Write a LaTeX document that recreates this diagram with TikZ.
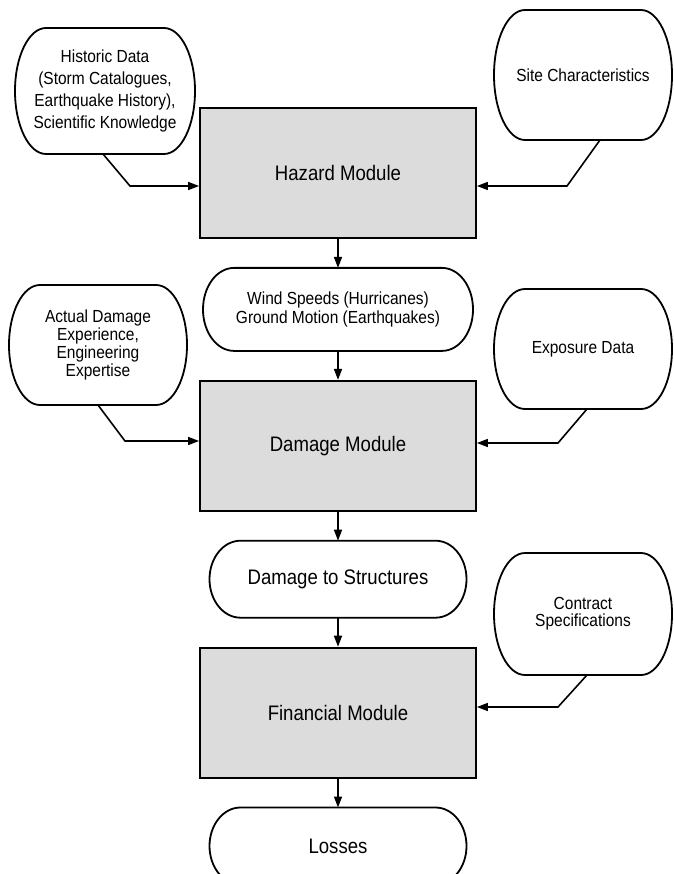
\documentclass[tikz,border=0pt]{standalone}
\usepackage{fontspec}
\usepackage{tikz}
\usetikzlibrary{arrows.meta,positioning,calc}

\newfontfamily\diagfont{Liberation Sans}[FakeStretch=0.885]
\newcommand{\bigfont}{\diagfont\fontsize{21}{24}\selectfont}
\newcommand{\smallfont}{\diagfont\fontsize{17.5}{18.3}\selectfont}
\newcommand{\loosefont}{\diagfont\fontsize{17.5}{21.8}\selectfont}
\definecolor{modulegray}{RGB}{220,220,220}

% outline with elliptical ends, drawn round a named node
\newcommand{\bubblerx}{31pt}
\newcommand{\drawbubble}[1]{%
  \draw[bubbleedge] let \p1=(#1.north east), \p2=(#1.south west), \n1={(\y1-\y2)/2} in
    ([xshift=\bubblerx]#1.north west) -- ([xshift=-\bubblerx]#1.north east)
    arc[start angle=90, end angle=-90, x radius=\bubblerx, y radius=\n1]
    -- ([xshift=\bubblerx]#1.south west)
    arc[start angle=270, end angle=90, x radius=\bubblerx, y radius=\n1] -- cycle;}

\begin{document}
\begin{tikzpicture}[
  x=1pt, y=1pt,
  node distance=29pt,
  module/.style={draw, line width=1.8pt, fill=modulegray, minimum width=276pt, minimum height=130pt, font=\bigfont},
  term/.style={align=center, outer sep=0pt, font=\bigfont},
  source/.style={align=center, outer sep=0pt, minimum width=178pt, font=\smallfont},
  bubbleedge/.style={line width=1.8pt},
  arrow/.style={-{Triangle[length=11pt,width=8pt]}, line width=1.6pt}
]
\useasboundingbox (0,0) rectangle (673,-874);
\clip (0,0) rectangle (673,-874);

% main column
\node[module] (hazard) at (338,-173) {Hazard Module};
\node[term, font=\smallfont, minimum width=270pt, minimum height=83pt, below=of hazard] (wind) {Wind Speeds (Hurricanes)\\Ground Motion (Earthquakes)};
\node[module, below=of wind] (damage) {Damage Module};
\node[term, minimum width=257pt, minimum height=77pt, below=of damage] (structures) {Damage to Structures};
\node[module, below=of structures] (financial) {Financial Module};
\node[term, minimum width=257pt, minimum height=77pt, below=of financial] (losses) {Losses};

% inputs at the sides
\node[source, font=\loosefont, minimum width=180pt, minimum height=126pt] (historic) at (105,-91) {Historic Data\\(Storm Catalogues,\\Earthquake History),\\Scientific Knowledge};
\node[source, minimum height=130pt] (site) at (583,-75) {Site Characteristics};
\node[source, minimum height=120pt] (experience) at (98,-345) {Actual Damage\\Experience,\\Engineering\\Expertise};
\node[source, minimum height=120pt] (exposure) at (583,-349) {Exposure Data};
\node[source, font=\diagfont\fontsize{17.5}{17}\selectfont, minimum height=122pt] (contract) at (583,-614) {Contract\\Specifications};

\foreach \b in {wind, structures, losses, historic, site, experience, exposure, contract}
  {\drawbubble{\b}}

\draw[arrow] (hazard) -- (wind);
\draw[arrow] (wind) -- (damage);
\draw[arrow] (damage) -- (structures);
\draw[arrow] (structures) -- (financial);
\draw[arrow] (financial) -- (losses);

\draw[arrow] ([xshift=-2pt]historic.south) -- ++(27,-32) coordinate (historic-bend) -- (historic-bend -| hazard.west);
\draw[arrow] ([xshift=17pt]site.south) -- ++(-33,-46) coordinate (site-bend) -- (site-bend -| hazard.east);
\draw[arrow] (experience.south) -- ++(27,-36) coordinate (experience-bend) -- (experience-bend -| damage.west);
\draw[arrow] ([xshift=4pt]exposure.south) -- ++(-29,-34) coordinate (exposure-bend) -- (exposure-bend -| damage.east);
\draw[arrow] ([xshift=4pt]contract.south) -- ++(-29,-32) coordinate (contract-bend) -- (contract-bend -| financial.east);
\end{tikzpicture}
\end{document}
